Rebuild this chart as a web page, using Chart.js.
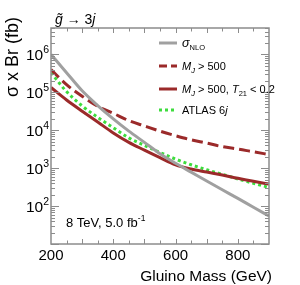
<!DOCTYPE html>
<html>
<head>
<meta charset="utf-8">
<script src="https://cdn.jsdelivr.net/npm/chart.js@4.4.0/dist/chart.umd.min.js"></script>
<style>
  html, body { margin: 0; padding: 0; background: #fff; }
  #wrap { width: 300px; height: 285px; }
</style>
</head>
<body>
<div id="wrap"><canvas id="c" width="300" height="285"></canvas></div>
<script>
// gluino mass points (GeV)
var masses = [200, 250, 300, 350, 400, 450, 500, 550, 600, 650, 700, 750, 800, 850, 900];
// cross section x branching ratio (fb)
var sigmaNLO = [1.0e6, 3.3e5, 1.1e5, 4.5e4, 2.0e4, 9.5e3, 4.8e3, 2.4e3, 1.35e3, 790, 460, 270, 160, 93, 55];
var mjCut    = [4.0e5, 1.6e5, 7.9e4, 4.3e4, 2.8e4, 1.8e4, 1.3e4, 9.5e3, 7.2e3, 5.6e3, 4.6e3, 3.7e3, 3.2e3, 2.7e3, 2.3e3];
var mjT21Cut = [1.35e5, 6.3e4, 3.2e4, 1.66e4, 8.5e3, 4.8e3, 3.0e3, 1.9e3, 1.23e3, 950, 790, 660, 540, 450, 380];
var atlas6j  = [3.3e5, 1.05e5, 4.4e4, 2.2e4, 1.17e4, 6.3e3, 4.0e3, 2.6e3, 1.74e3, 1.23e3, 910, 690, 520, 400, 310];

var xTickLabels = [200, 400, 600, 800];
var yTickExps = [2, 3, 4, 5, 6];

var FONT = '"Liberation Sans", Arial, sans-serif';
var GREY = '#a0a0a0';
var RED = '#9b2a2a';
var GREEN = '#3ddc3d';

function pts(arr) {
  return masses.map(function(m, i) { return { x: m, y: arr[i] }; });
}

// draw a run of text pieces: [text, size, italic, dy]
function rich(ctx, x, y, parts, align) {
  var w = 0;
  parts.forEach(function(p) {
    ctx.font = (p[2] ? 'italic ' : '') + p[1] + 'px ' + FONT;
    w += ctx.measureText(p[0]).width;
  });
  var cx = align === 'right' ? x - w : (align === 'center' ? x - w / 2 : x);
  parts.forEach(function(p) {
    ctx.font = (p[2] ? 'italic ' : '') + p[1] + 'px ' + FONT;
    ctx.fillText(p[0], cx, y + (p[3] || 0));
    cx += ctx.measureText(p[0]).width;
  });
}

var decor = {
  id: 'decor',
  afterDraw: function(chart) {
    var ctx = chart.ctx, a = chart.chartArea;
    var xs = chart.scales.x, ys = chart.scales.y;
    ctx.save();
    ctx.strokeStyle = '#8c8c8c';
    ctx.lineWidth = 1.5;
    ctx.strokeRect(a.left, a.top, a.right - a.left, a.bottom - a.top);

    // x ticks, inside, bottom and top
    ctx.lineWidth = 1;
    for (var m = 250; m < 900; m += 50) {
      var px = Math.round(xs.getPixelForValue(m)) + 0.5;
      var len = (m % 100 === 0) ? 5 : 3.5;
      ctx.beginPath();
      ctx.moveTo(px, a.bottom); ctx.lineTo(px, a.bottom - len);
      ctx.moveTo(px, a.top); ctx.lineTo(px, a.top + len);
      ctx.stroke();
    }
    // y ticks, inside, left and right
    for (var e = 1; e <= 6; e++) {
      for (var k = 1; k <= 9; k++) {
        var v = k * Math.pow(10, e);
        if (v > ys.max) break;
        var py = Math.round(ys.getPixelForValue(v)) + 0.5;
        var l = (k === 1) ? 8 : 4;
        ctx.beginPath();
        ctx.moveTo(a.left, py); ctx.lineTo(a.left + l, py);
        ctx.moveTo(a.right, py); ctx.lineTo(a.right - l, py);
        ctx.stroke();
      }
    }

    ctx.fillStyle = '#000';
    ctx.textBaseline = 'alphabetic';
    // x tick labels
    xTickLabels.forEach(function(t) {
      rich(ctx, xs.getPixelForValue(t), a.bottom + 16, [[String(t), 15, false]], 'center');
    });
    // y tick labels 10^n
    yTickExps.forEach(function(n) {
      var py = ys.getPixelForValue(Math.pow(10, n));
      rich(ctx, a.left - 2, py + 6, [['10', 15.5, false], [String(n), 10.5, false, -7]], 'right');
    });

    // axis titles
    rich(ctx, 272, 281, [['Gluino Mass (GeV)', 15.5, false]], 'right');
    ctx.save();
    ctx.translate(18, 57);
    ctx.rotate(-Math.PI / 2);
    rich(ctx, 0, 0, [['σ x Br (fb)', 18, false]], 'center');
    ctx.restore();

    // process label
    rich(ctx, 55, 24, [['g\u0303', 14, true], [' \u2192 3', 14, false], ['j', 14, true]], 'left');

    // energy / lumi
    rich(ctx, 66, 227, [['8 TeV, 5.0 fb', 13, false], ['-1', 8.5, false, -6]], 'left');

    // legend
    var items = [
      { y: 43, c: GREY, dash: [], parts: [['σ', 12.5, true], ['NLO', 7.5, false, 3]] },
      { y: 66, c: RED, dash: [8, 4], parts: [['M', 11, true], ['J', 7.5, true, 3], [' > 500', 11, false]] },
      { y: 89, c: RED, dash: [], parts: [['M', 11, true], ['J', 7.5, true, 3], [' > 500, ', 11, false], ['T', 11, true], ['21', 7.5, false, 3], [' < 0.2', 11, false]] },
      { y: 110, c: GREEN, dash: [3, 3], parts: [['ATLAS 6', 11, false], ['j', 11, true]] }
    ];
    items.forEach(function(it) {
      ctx.strokeStyle = it.c;
      ctx.lineWidth = 3;
      ctx.setLineDash(it.dash);
      ctx.beginPath();
      ctx.moveTo(159, it.y); ctx.lineTo(177, it.y);
      ctx.stroke();
      ctx.setLineDash([]);
      rich(ctx, 182, it.y + 4, it.parts, 'left');
    });
    ctx.restore();
  }
};

new Chart(document.getElementById('c'), {
  type: 'line',
  data: {
    datasets: [
      { label: 'sigmaNLO', data: pts(sigmaNLO), borderColor: GREY, borderWidth: 3 },
      { label: 'MJ > 500', data: pts(mjCut), borderColor: RED, borderWidth: 3, borderDash: [11, 5] },
      { label: 'MJ > 500, T21 < 0.2', data: pts(mjT21Cut), borderColor: RED, borderWidth: 3 },
      { label: 'ATLAS 6j', data: pts(atlas6j), borderColor: GREEN, borderWidth: 3, borderDash: [3, 3] }
    ]
  },
  options: {
    responsive: false,
    animation: false,
    layout: { padding: { left: 51, right: 31, top: 28, bottom: 41 } },
    elements: {
      point: { radius: 0 },
      line: { cubicInterpolationMode: 'monotone', fill: false }
    },
    scales: {
      x: { type: 'linear', min: 200, max: 900, display: false },
      y: { type: 'logarithmic', min: 10, max: 5e6, display: false }
    },
    plugins: { legend: { display: false }, tooltip: { enabled: false } }
  },
  plugins: [decor]
});
</script>
</body>
</html>
